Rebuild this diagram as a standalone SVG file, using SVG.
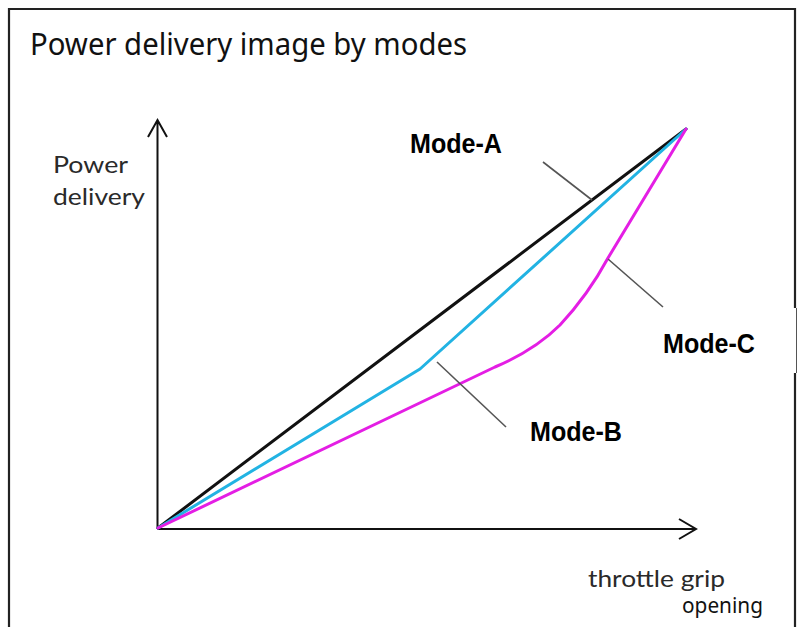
<svg xmlns="http://www.w3.org/2000/svg" width="803" height="627" viewBox="0 0 803 627">
<style>
.frame{fill:none;stroke:#222;stroke-width:2.2}
.axis{fill:none;stroke:#111;stroke-width:2}
.curve{fill:none;stroke-width:3;stroke-linejoin:round;stroke-linecap:round}
.lead{fill:none;stroke:#555;stroke-width:1.6}
.mode{font-family:"Liberation Sans",Arial,sans-serif;font-weight:bold;font-size:28px;fill:#000}
.ax{font-family:Lato,"Open Sans",sans-serif;font-size:24px;fill:#2a2a2a}
</style>
<rect x="0" y="0" width="803" height="627" fill="#fff"/>
<g id="frame">
<path class="frame" d="M9,627 V9 H795 V308 M795,373 V627"/>
<path d="M796.5,308 V373" stroke="#555" stroke-width="1" fill="none"/>
</g>
<text id="title" x="30" y="55" font-family="'Noto Sans','Open Sans',sans-serif" font-size="30" fill="#111" textLength="437" lengthAdjust="spacingAndGlyphs">Power delivery image by modes</text>
<g id="axes">
<path class="axis" d="M157.5,529 V121 M148,137 L157.5,120 L167,137"/>
<path class="axis" d="M157.5,529 H695 M679,519 L696,529 L679,539"/>
</g>
<g id="y-label">
<text class="ax" x="53" y="173" textLength="75" lengthAdjust="spacingAndGlyphs">Power</text>
<text class="ax" x="53" y="205" textLength="92" lengthAdjust="spacingAndGlyphs">delivery</text>
</g>
<g id="x-label">
<text class="ax" x="588" y="587" textLength="137" lengthAdjust="spacingAndGlyphs">throttle grip</text>
<text x="682" y="613" font-family="'Noto Sans','Open Sans',sans-serif" font-size="21" fill="#111" textLength="81" lengthAdjust="spacingAndGlyphs">opening</text>
</g>
<g id="connectors">
<path id="mode-a-curve" class="curve" stroke="#111" d="M158,528 L686,129"/>
<path id="mode-b-curve" class="curve" stroke="#22b3e3" d="M158,528 L420,369 L686,129"/>
<path id="mode-c-curve" class="curve" stroke="#e41ee4" d="M158,528 L495,367 Q535,350 560,325 Q588,295 608,258 L686,129"/>
<path class="lead" d="M543,162 L592,200"/>
<path class="lead" d="M608,259 L663,307"/>
<path class="lead" d="M437,362 L506,427"/>
</g>
<g id="mode-a"><text class="mode" x="410" y="153" textLength="92" lengthAdjust="spacingAndGlyphs">Mode-A</text></g>
<g id="mode-b"><text class="mode" x="530" y="441" textLength="92" lengthAdjust="spacingAndGlyphs">Mode-B</text></g>
<g id="mode-c"><text class="mode" x="663" y="353" textLength="92" lengthAdjust="spacingAndGlyphs">Mode-C</text></g>
</svg>
